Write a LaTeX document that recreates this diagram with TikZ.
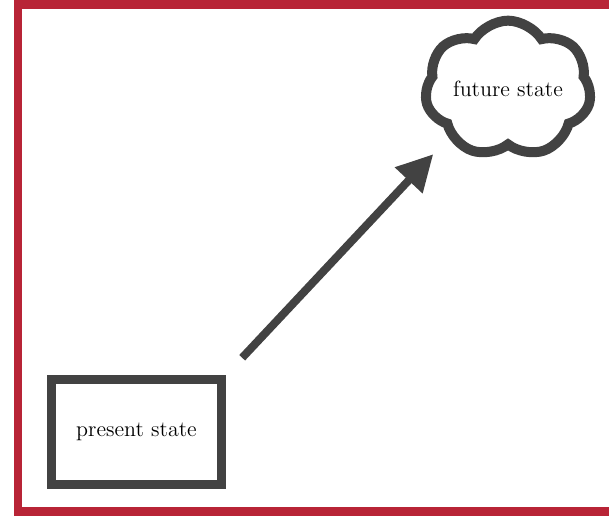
\documentclass[tikz,border=0pt]{standalone}
\usepackage{tikz}
\usetikzlibrary{shapes.symbols,arrows.meta}
\definecolor{framered}{RGB}{184,36,54}
\definecolor{stategray}{RGB}{66,66,66}
\tikzset{
	statebox/.style={draw=stategray, line width=4.25pt, minimum width=85pt, minimum height=52.5pt, inner sep=0pt, font=\fontsize{11}{13}\selectfont},
	statecloud/.style={cloud, draw=stategray, line width=5pt, cloud puffs=7, cloud puff arc=115, aspect=1.4, minimum width=80pt, minimum height=56pt, inner sep=0pt, font=\fontsize{11}{13}\selectfont},
	towards/.style={draw=stategray, line width=4pt, -{Triangle[length=18pt, width=18pt]}}
}

\begin{document}
\begin{tikzpicture}[x=0.5pt, y=-0.5pt]
		%%%%% START %%%%%
		
		\useasboundingbox (0, 0) rectangle (609, 516);
		\clip (0, 0) rectangle (609, 516);
		
		\draw[line width=4.25pt, color=framered] (18, 4.5) rectangle (660, 511.5);
		
		\node[statebox] (present) at (136.5, 432) {present state};
		\node[statecloud] (future) at (508, 89) {future state};
		
		\draw[towards, shorten <=12pt, shorten >=11pt] (present.north east) -- (future.south west);
		
		%%%%% END %%%%%
	\end{tikzpicture}
\end{document}
